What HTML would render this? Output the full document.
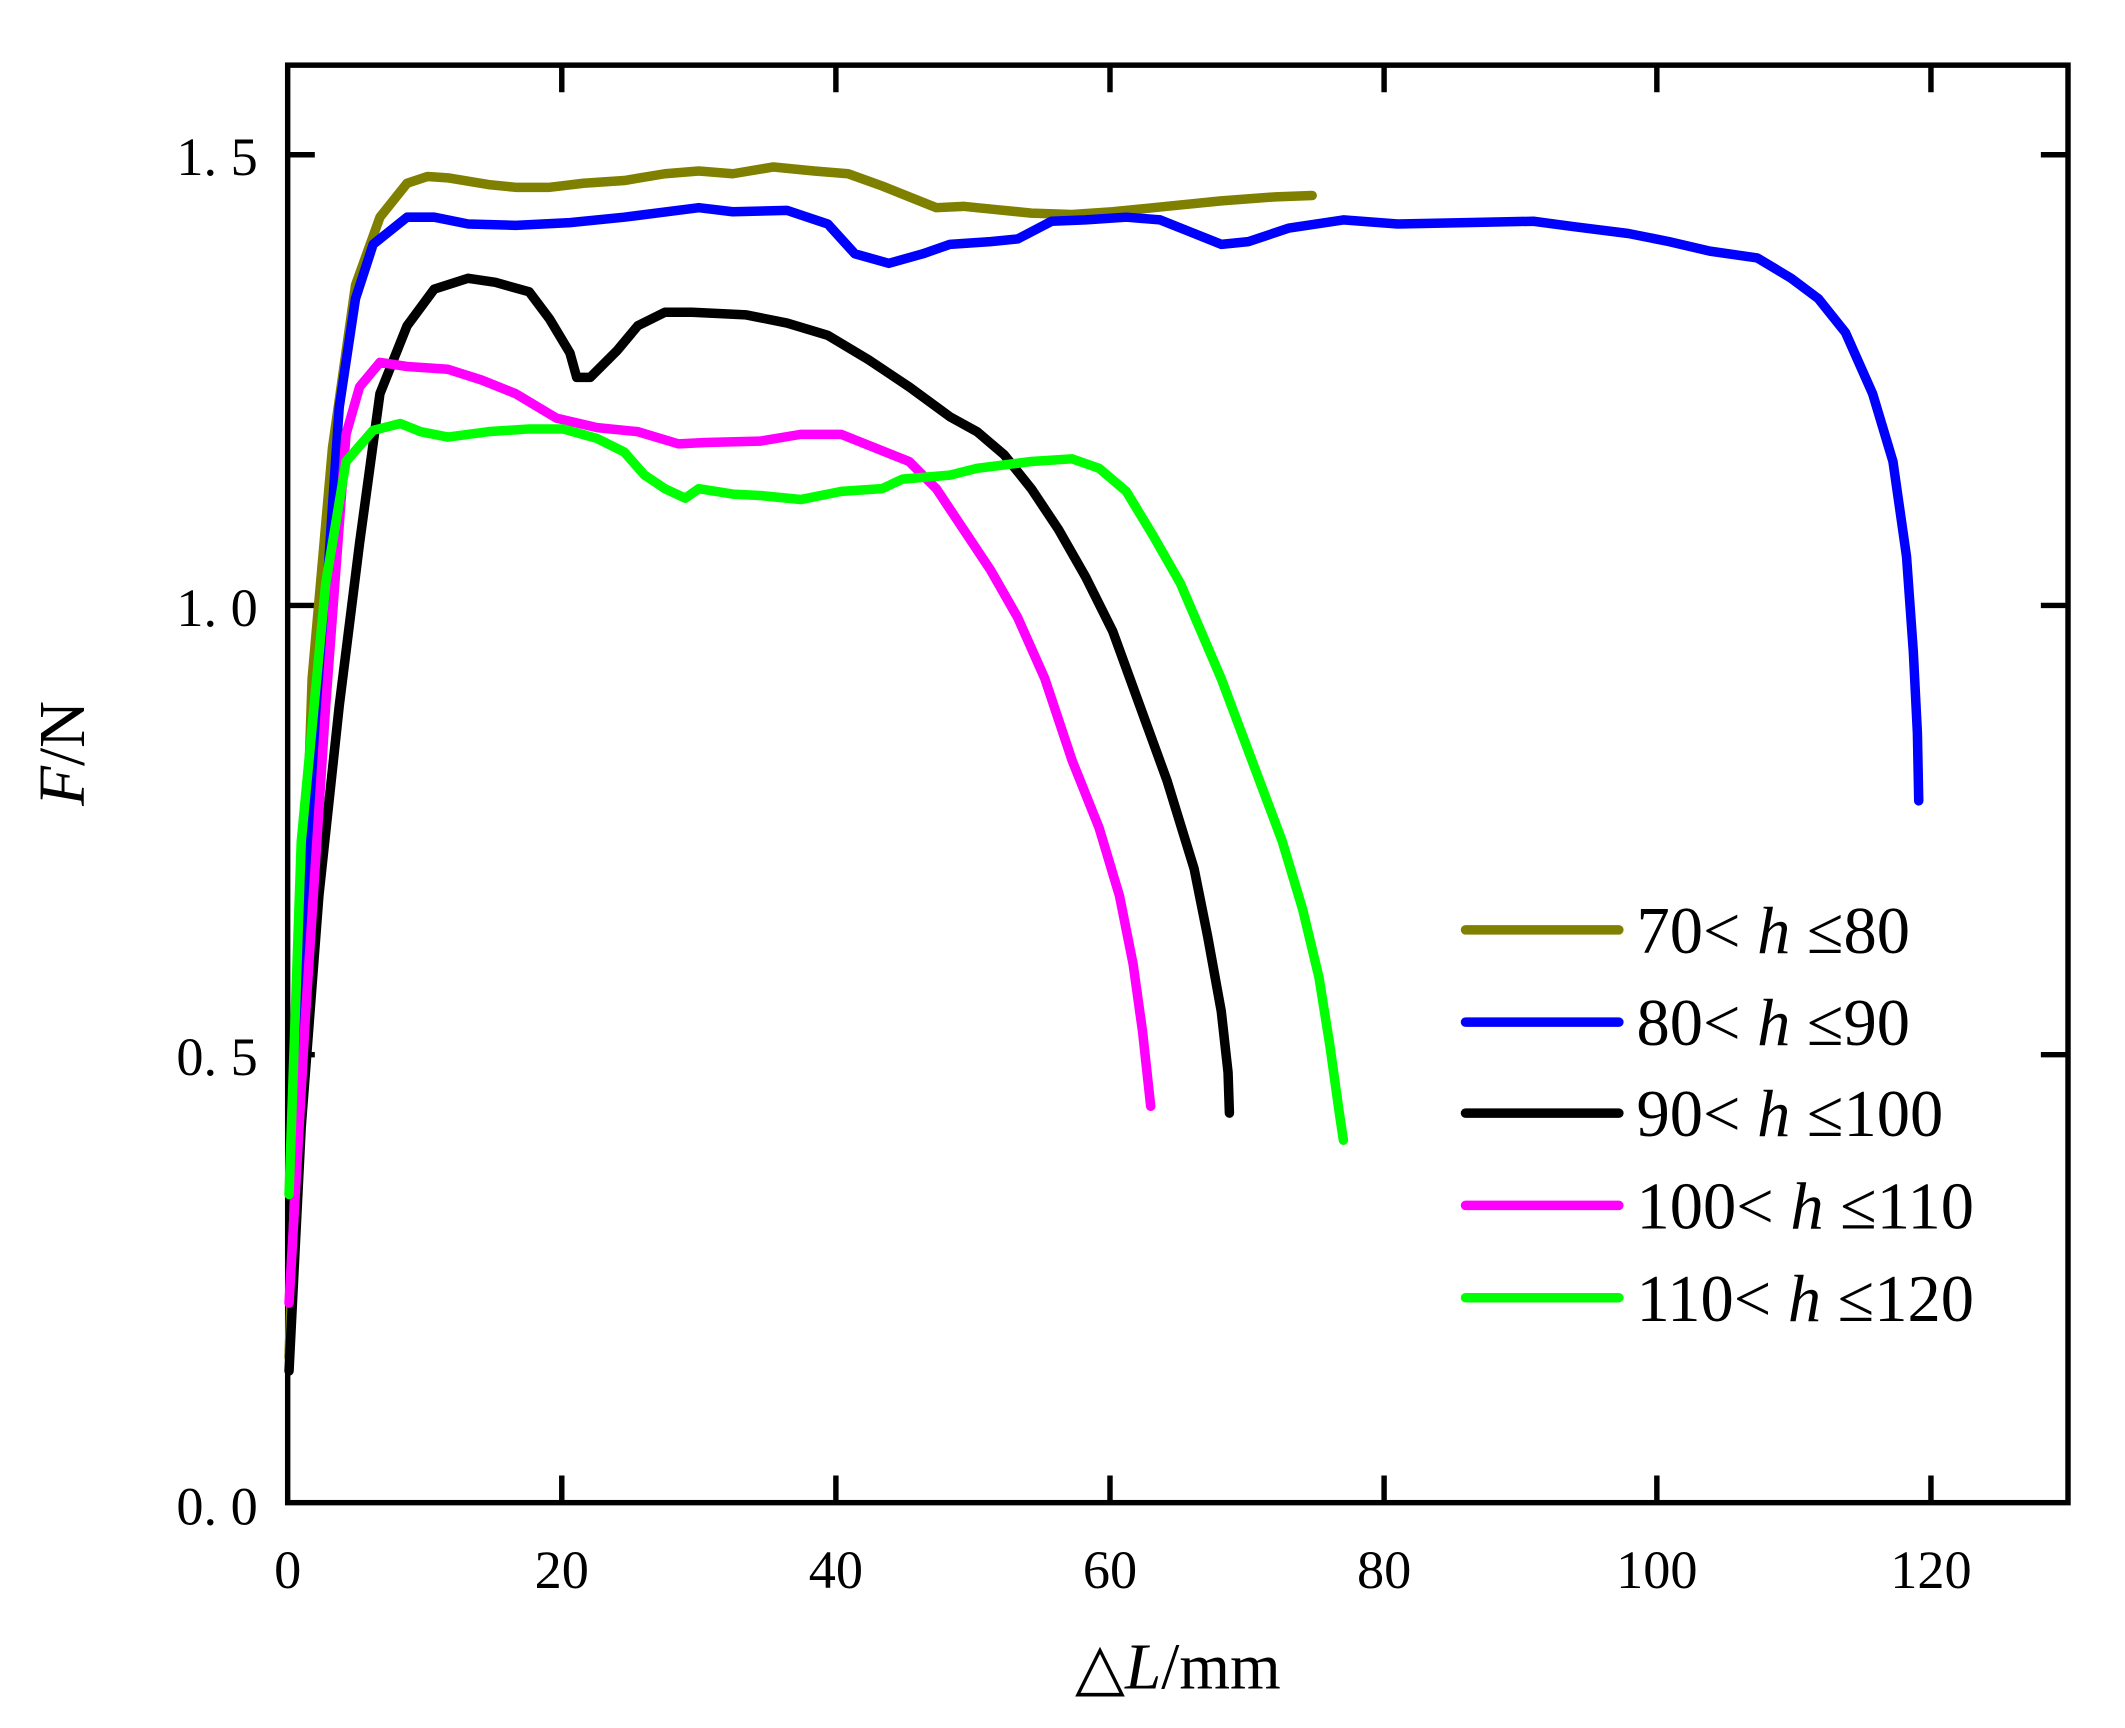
<!DOCTYPE html>
<html><head><meta charset="utf-8"><style>html,body{margin:0;padding:0;background:#fff}svg{display:block}</style></head>
<body>
<svg width="2125" height="1728" viewBox="0 0 1566 1273" preserveAspectRatio="none" xmlns="http://www.w3.org/2000/svg" font-family="Liberation Serif, serif">
<rect width="1566" height="1273" fill="#fff"/>
<g stroke="#000" stroke-width="4" fill="none">
<rect x="212" y="48" width="1312" height="1059"/>
<path d="M414 1107v-20M616 1107v-20M818 1107v-20M1020 1107v-20M1221 1107v-20M1423 1107v-20
M414 48v20M616 48v20M818 48v20M1020 48v20M1221 48v20M1423 48v20
M212 114h20M212 446h20M212 777h20M1524 114h-20M1524 446h-20M1524 777h-20"/>
</g>
<g font-size="40" text-anchor="end" fill="#000">
<text x="190" y="1123">0. 0</text><text x="190" y="792">0. 5</text><text x="190" y="461">1. 0</text><text x="190" y="129">1. 5</text>
</g>
<g font-size="40" text-anchor="middle" fill="#000">
<text x="212" y="1170">0</text><text x="414" y="1170">20</text><text x="616" y="1170">40</text><text x="818" y="1170">60</text><text x="1020" y="1170">80</text><text x="1221" y="1170">100</text><text x="1423" y="1170">120</text>
</g>
<text x="868" y="1244" font-size="48" text-anchor="middle">△<tspan font-style="italic">L</tspan>/mm</text>
<text transform="translate(62,555) rotate(-90)" font-size="48" text-anchor="middle"><tspan font-style="italic">F</tspan>/N</text>
<g fill="none" stroke-width="7" stroke-linejoin="round" stroke-linecap="round">
<polyline stroke="#808000" points="213,1000 230,500 245,330 262,210 280,160 300,135 315,130 330,131 360,136 380,138 405,138 430,135 460,133 490,128 515,126 540,128 570,123 600,126 625,128 650,137 690,153 710,152 730,154 760,157 790,158 820,156 860,152 900,148 940,145 967,144"/>
<polyline stroke="#0000ff" points="215,820 235,520 250,300 262,220 275,180 300,160 320,160 345,165 380,166 420,164 460,160 515,153 540,156 580,155 610,165 630,187 655,194 680,187 700,180 730,178 750,176 775,163 800,162 830,160 855,162 875,170 900,180 920,178 950,168 990,162 1030,165 1080,164 1130,163 1160,167 1200,172 1230,178 1260,185 1295,190 1320,205 1340,220 1360,245 1380,290 1395,340 1405,410 1410,480 1413,540 1414,590"/>
<polyline stroke="#000000" points="213,1010 222,830 235,660 250,520 265,400 280,290 300,240 320,213 345,205 365,208 390,215 405,235 420,260 425,278 435,278 455,258 470,240 490,230 510,230 550,232 580,238 610,247 640,265 670,285 700,307 720,318 740,335 760,360 780,390 800,425 820,465 840,520 860,575 880,640 890,690 900,745 905,790 906,820"/>
<polyline stroke="#ff00ff" points="213,960 225,750 240,520 255,320 265,285 280,267 300,270 330,272 355,280 380,290 410,308 440,315 470,318 500,327 520,326 560,325 590,320 620,320 640,328 670,340 690,360 710,390 730,420 750,455 770,500 790,560 810,610 825,660 835,710 842,760 848,815"/>
<polyline stroke="#00ff00" points="213,880 222,620 240,430 255,340 275,317 295,312 310,318 330,322 360,318 390,316 415,316 440,323 460,333 475,350 490,360 505,367 515,360 540,364 560,365 590,368 620,362 650,360 665,353 700,350 720,345 760,340 790,338 810,345 830,362 850,395 870,430 885,465 900,500 915,540 930,580 945,620 960,670 972,720 980,770 987,820 990,840"/>
<line x1="1080" y1="685" x2="1193" y2="685" stroke="#808000"/>
<line x1="1080" y1="753" x2="1193" y2="753" stroke="#0000ff"/>
<line x1="1080" y1="820" x2="1193" y2="820" stroke="#000000"/>
<line x1="1080" y1="888" x2="1193" y2="888" stroke="#ff00ff"/>
<line x1="1080" y1="956" x2="1193" y2="956" stroke="#00ff00"/>
</g>
<g font-size="49" fill="#000">
<text x="1206" y="702">70&lt; <tspan font-style="italic">h</tspan> ≤80</text>
<text x="1206" y="770">80&lt; <tspan font-style="italic">h</tspan> ≤90</text>
<text x="1206" y="837">90&lt; <tspan font-style="italic">h</tspan> ≤100</text>
<text x="1206" y="905">100&lt; <tspan font-style="italic">h</tspan> ≤110</text>
<text x="1206" y="973">110&lt; <tspan font-style="italic">h</tspan> ≤120</text>
</g>
</svg>
</body></html>
